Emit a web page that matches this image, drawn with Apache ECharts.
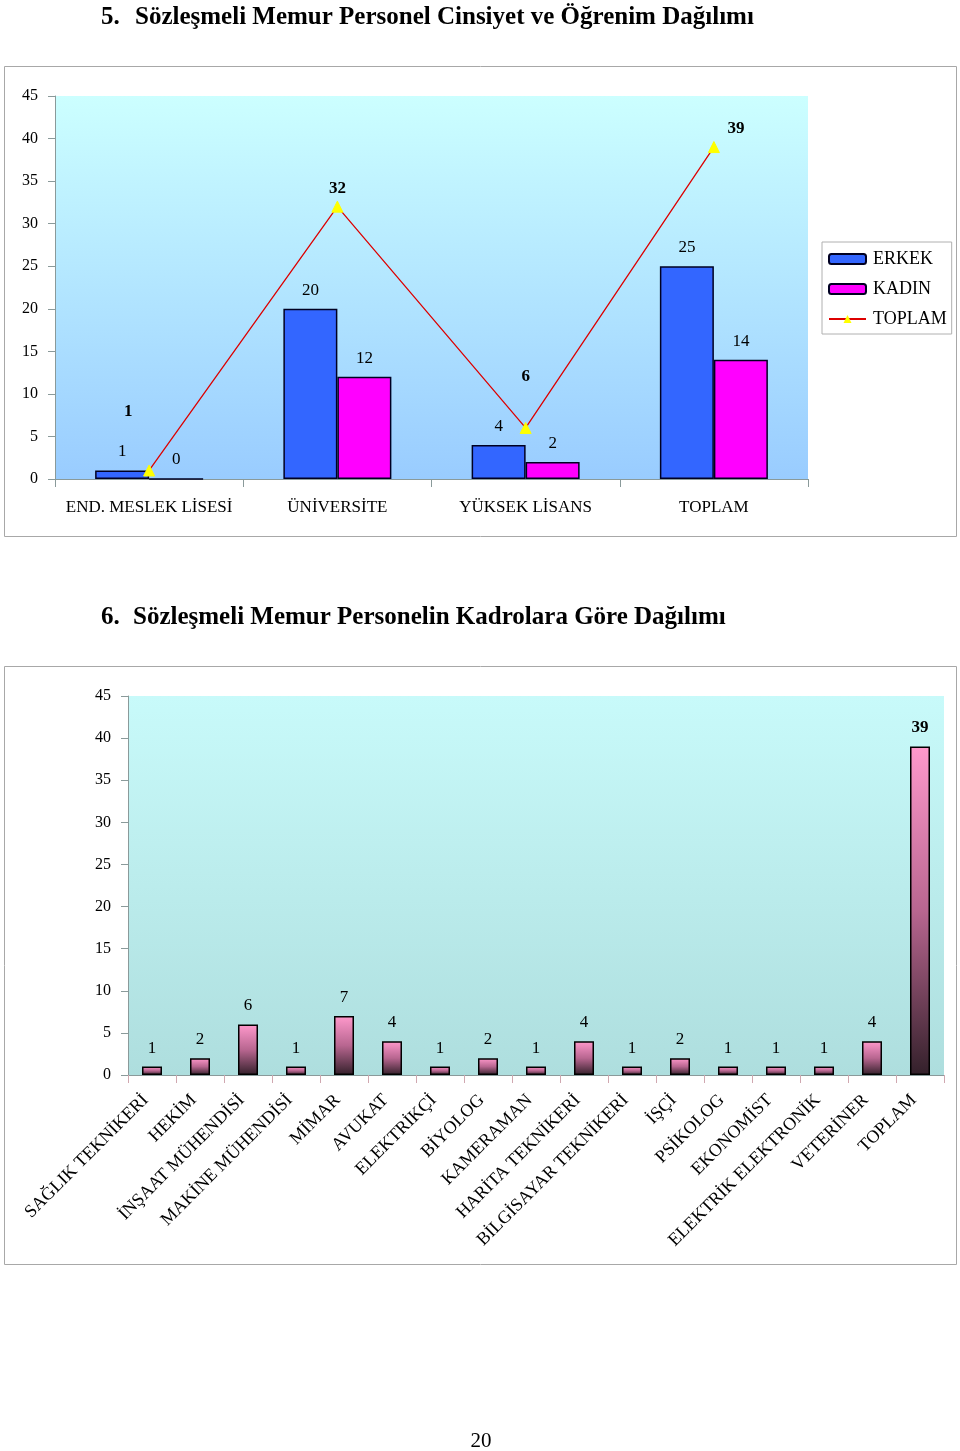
<!DOCTYPE html>
<html><head><meta charset="utf-8">
<script src="https://cdn.jsdelivr.net/npm/echarts@6/dist/echarts.min.js"></script>
<style>html,body{margin:0;padding:0;background:#fff;}#c{width:960px;height:1451px;}</style>
</head><body><div id="c"></div>
<script>
// Chart 1 data
const eduCategories = ['END. MESLEK LİSESİ', 'ÜNİVERSİTE', 'YÜKSEK LİSANS', 'TOPLAM'];
const erkekValues = [1, 20, 4, 25];
const kadinValues = [0, 12, 2, 14];
const toplamValues = [1, 32, 6, 39];
const yTicks1 = [0, 5, 10, 15, 20, 25, 30, 35, 40, 45];

// Chart 2 data
const kadroCategories = ['SAĞLIK TEKNİKERİ', 'HEKİM', 'İNŞAAT MÜHENDİSİ', 'MAKİNE MÜHENDİSİ', 'MİMAR', 'AVUKAT', 'ELEKTRİKÇİ', 'BİYOLOG', 'KAMERAMAN', 'HARİTA TEKNİKERİ', 'BİLGİSAYAR TEKNİKERİ', 'İŞÇİ', 'PSİKOLOG', 'EKONOMİST', 'ELEKTRİK ELEKTRONİK', 'VETERİNER', 'TOPLAM'];
const kadroValues = [1, 2, 6, 1, 7, 4, 1, 2, 1, 4, 1, 2, 1, 1, 1, 4, 39];
const yTicks2 = [0, 5, 10, 15, 20, 25, 30, 35, 40, 45];

const FONT = '"Liberation Serif", "Times New Roman", serif';
const chart = echarts.init(document.getElementById('c'), null, {renderer: 'canvas'});

// label offsets for the TOPLAM series (style only)
const toplamOffsets = [[-21, -36], [0, 4], [0, -29], [22, 4]];

const axisLine = {show: true, lineStyle: {color: '#8a9a9a', width: 1}};
const yAxisCommon = (ticks) => ({
  type: 'value', min: ticks[0], max: ticks[ticks.length - 1], interval: ticks[1] - ticks[0],
  axisLine: axisLine, axisTick: {show: true, length: 7, lineStyle: {color: '#8a9a9a'}},
  splitLine: {show: false},
  axisLabel: {fontFamily: FONT, fontSize: 16, color: '#000', margin: 17}
});

chart.setOption({
  animation: false,
  textStyle: {fontFamily: FONT},
  graphic: [
    {type: 'rect', shape: {x: 4.5, y: 66.5, width: 952, height: 470}, style: {fill: 'none', stroke: '#a8a8a8', lineWidth: 1}},
    {type: 'rect', shape: {x: 4.5, y: 666.5, width: 952, height: 598}, style: {fill: 'none', stroke: '#a8a8a8', lineWidth: 1}},
    {type: 'text', x: 101, y: 18, style: {text: '5.', font: 'bold 25px ' + FONT, fill: '#000', verticalAlign: 'middle'}},
    {type: 'text', x: 135, y: 18, style: {text: 'Sözleşmeli Memur Personel Cinsiyet ve Öğrenim Dağılımı', font: 'bold 25px ' + FONT, fill: '#000', verticalAlign: 'middle'}},
    {type: 'text', x: 101, y: 618, style: {text: '6.', font: 'bold 25px ' + FONT, fill: '#000', verticalAlign: 'middle'}},
    {type: 'text', x: 133, y: 618, style: {text: 'Sözleşmeli Memur Personelin Kadrolara Göre Dağılımı', font: 'bold 25px ' + FONT, fill: '#000', verticalAlign: 'middle'}},
    {type: 'text', x: 481, y: 1441, style: {text: '20', font: '21px ' + FONT, fill: '#000', align: 'center', verticalAlign: 'middle'}}
  ],
  legend: {
    show: true, orient: 'vertical', left: 822, top: 242,
    data: ['ERKEK', 'KADIN', 'TOPLAM'],
    backgroundColor: '#fff', borderColor: '#b0b0b0', borderWidth: 1,
    padding: [8, 5, 6, 6], itemWidth: 37, itemHeight: 10, itemGap: 12,
    textStyle: {fontFamily: FONT, fontSize: 18, color: '#000', padding: [0, 0, 0, 2]},
    selectedMode: false
  },
  grid: [
    {left: 55, right: 152, top: 96, bottom: 972, show: true, borderWidth: 0,
     backgroundColor: new echarts.graphic.LinearGradient(0, 0, 0, 1, [{offset: 0, color: '#ccffff'}, {offset: 1, color: '#99ccff'}])},
    {left: 128, right: 16, top: 696, bottom: 376, show: true, borderWidth: 0,
     backgroundColor: new echarts.graphic.LinearGradient(0, 0, 0, 1, [{offset: 0, color: '#c8fafa'}, {offset: 1, color: '#aedede'}])}
  ],
  xAxis: [
    {type: 'category', gridIndex: 0, data: eduCategories, boundaryGap: true,
     axisLine: axisLine, axisTick: {show: true, length: 8, interval: 0, lineStyle: {color: '#8a9a9a'}},
     axisLabel: {fontFamily: FONT, fontSize: 17, color: '#000', margin: 20, interval: 0}},
    {type: 'category', gridIndex: 1, data: kadroCategories, boundaryGap: true,
     axisLine: axisLine, axisTick: {show: true, length: 8, interval: 0, lineStyle: {color: '#d0a8b0'}},
     axisLabel: {fontFamily: FONT, fontSize: 18, color: '#000', rotate: 45, margin: 16, interval: 0, padding: [0, 9, 0, 0]}}
  ],
  yAxis: [
    Object.assign({gridIndex: 0}, yAxisCommon(yTicks1)),
    Object.assign({gridIndex: 1}, yAxisCommon(yTicks2))
  ],
  series: [
    {name: 'ERKEK', type: 'bar', xAxisIndex: 0, yAxisIndex: 0, data: erkekValues,
     barWidth: 54, barGap: '0%',
     itemStyle: {color: '#3366ff', borderColor: '#000022', borderWidth: 1.5},
     label: {show: true, position: 'top', distance: 10, fontFamily: FONT, fontSize: 17, color: '#000'}},
    {name: 'KADIN', type: 'bar', xAxisIndex: 0, yAxisIndex: 0, data: kadinValues,
     barWidth: 54, barGap: '0%',
     itemStyle: {color: '#ff00ff', borderColor: '#000022', borderWidth: 1.5},
     label: {show: true, position: 'top', distance: 10, fontFamily: FONT, fontSize: 17, color: '#000'}},
    {name: 'TOPLAM', type: 'line', xAxisIndex: 0, yAxisIndex: 0,
     data: toplamValues.map((v, i) => ({value: v, label: {offset: toplamOffsets[i]}})),
     symbol: 'triangle', symbolSize: 11, z: 5,
     lineStyle: {color: '#dd0000', width: 1.3},
     itemStyle: {color: '#ffff00', borderColor: '#ffff00'},
     label: {show: true, position: 'top', distance: 8, fontFamily: FONT, fontSize: 17, fontWeight: 'bold', color: '#000'}},
    {name: 'KADRO', type: 'bar', xAxisIndex: 1, yAxisIndex: 1,
     data: kadroValues.map((v, i) => i === kadroValues.length - 1 ? {value: v, label: {fontWeight: 'bold'}} : v),
     barWidth: 20,
     itemStyle: {
       color: new echarts.graphic.LinearGradient(0, 0, 0, 1, [{offset: 0, color: '#ff99cc'}, {offset: 0.5, color: '#b86690'}, {offset: 1, color: '#33202a'}]),
       borderColor: '#000', borderWidth: 1.5
     },
     label: {show: true, position: 'top', distance: 10, fontFamily: FONT, fontSize: 17, color: '#000'}}
  ]
});
</script></body></html>
